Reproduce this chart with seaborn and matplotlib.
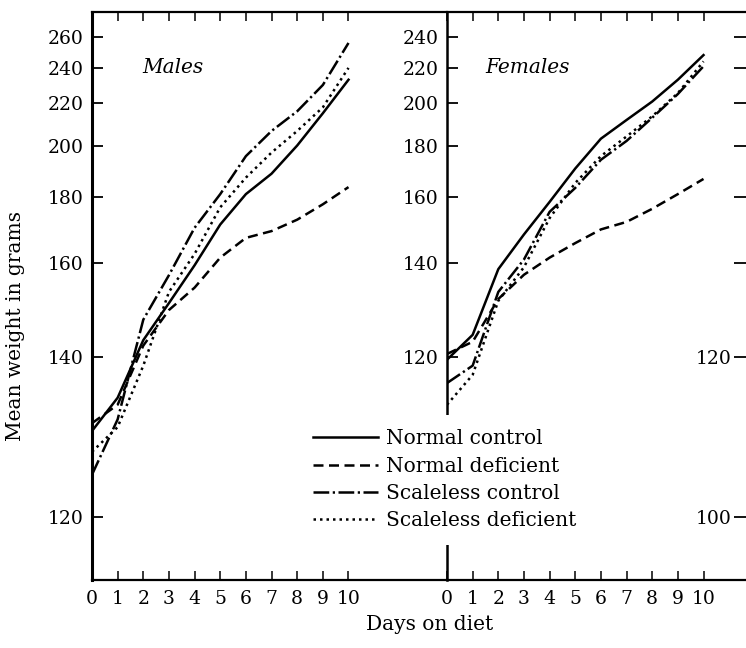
import numpy as np
import pandas as pd
import matplotlib
matplotlib.use("Agg")
import matplotlib.pyplot as plt
import seaborn as sns

# data (mean weight in grams, days 0-10)
days = list(range(11))
groups = ["Normal control", "Normal deficient", "Scaleless control", "Scaleless deficient"]

male_normal_control = [129, 133.5, 143, 150.5, 159.5, 171, 181, 188.5, 200, 215, 233]
male_normal_deficient = [130, 132.5, 142, 149, 154, 161.5, 167, 169, 172.5, 177.5, 183.5]
male_scaleless_control = [124, 130.5, 147, 157, 170, 181, 195.5, 206.5, 216, 230, 256]
male_scaleless_deficient = [126.5, 129.5, 138.5, 153, 162.5, 176.5, 187, 197, 206.5, 218, 240]

female_normal_control = [119.5, 124, 138.5, 148, 158.3, 170.5, 183, 191.7, 201, 213, 228]
female_normal_deficient = [120.5, 122.7, 131.4, 137.1, 141.5, 145.5, 149.5, 151.8, 156, 161, 166.5]
female_scaleless_control = [115.7, 118.5, 133, 141, 155, 163.2, 174, 182, 192.8, 205, 221]
female_scaleless_deficient = [112.5, 117, 131, 139, 153, 165, 175.5, 184, 193.5, 205.5, 224]

male_ticks = [120, 140, 160, 180, 200, 220, 240, 260]
female_ticks = [120, 140, 160, 180, 200, 220, 240]
edge_ticks = [100, 120, 140, 160, 180, 200, 220, 240]
edge_labels = ["100", "120", "", "", "", "", "", ""]


def long_form(series):
    return pd.DataFrame({
        "day": days * len(series),
        "weight": np.concatenate(series),
        "group": np.repeat(groups, len(days)),
    })


males = long_form([male_normal_control, male_normal_deficient,
                   male_scaleless_control, male_scaleless_deficient])
females = long_form([female_normal_control, female_normal_deficient,
                     female_scaleless_control, female_scaleless_deficient])


def log_offset(offset):
    # weight axis drawn as log(w - offset)
    fwd = lambda w: np.log(np.clip(np.asarray(w, dtype=float) - offset, 1e-6, None))
    inv = lambda v: np.exp(v) + offset
    return fwd, inv


plt.rcParams["font.family"] = ["DejaVu Serif"]
W, H = 746, 648
fig = plt.figure(figsize=(W / 100, H / 100), dpi=100)

top, bottom = 12, 580
b = 1 - bottom / H
h = (bottom - top) / H
px_day = 25.65

ax_m = fig.add_axes([92 / W, b, (447 - 92) / W, h])
ax_f = fig.add_axes([447 / W, b, (W - 447) / W, h])
ax_e = fig.add_axes([748 / W, b, 0.05, h])

dash_styles = ["", (4, 2.2), (6.3, 1.4, 0.9, 1.4), (1, 1.6)]

for ax, df, off, ticks in [(ax_m, males, 100, male_ticks), (ax_f, females, 80, female_ticks)]:
    sns.lineplot(data=df, x="day", y="weight", style="group", style_order=groups,
                 dashes=dash_styles, color="black", linewidth=1.8, ax=ax,
                 legend=(ax is ax_f))
    ax.set_yscale("function", functions=log_offset(off))
    ax.set_ylim(115.2 - (100 - off), 278.4 - (100 - off))
    ax.set_yticks(ticks)
    ax.set_yticklabels([str(t) for t in ticks])
    ax.yaxis.set_minor_locator(plt.NullLocator())
    ax.set_xticks(days)
    ax.set_xticklabels([str(d) for d in days])
    ax.set_xlabel("")
    ax.set_ylabel("")
    ax.set_facecolor("none")
    ax.tick_params(axis="y", direction="in", length=8, width=1.3, pad=6, labelsize=13.5)
    ax.tick_params(axis="x", direction="in", length=6.5, width=1.1, pad=7, labelsize=13.5,
                   top=True, labeltop=False)
    ax.spines["right"].set_visible(False)
    for s in ["top", "bottom"]:
        ax.spines[s].set_linewidth(1.6)
    ax.spines["left"].set_linewidth(1.8)

ax_m.set_xlim(0, (447 - 92) / px_day)
ax_f.set_xlim(0, (W - 447) / px_day)
ax_m.spines["left"].set_linewidth(2.2)

# right-hand edge scale (female scale continued)
ax_e.set_yscale("function", functions=log_offset(80))
ax_e.set_ylim(95.2, 258.4)
ax_e.set_yticks(edge_ticks)
ax_e.set_yticklabels(edge_labels)
ax_e.yaxis.set_minor_locator(plt.NullLocator())
ax_e.set_xticks([])
ax_e.set_facecolor("none")
for s in ax_e.spines.values():
    s.set_visible(False)
ax_e.tick_params(axis="y", direction="out", length=10, width=1.3, pad=2, labelsize=13.5)

ax_m.text(0.141, 0.903, "Males", transform=ax_m.transAxes, fontsize=14.5,
          style="italic", va="center", ha="left")
ax_f.text(0.127, 0.903, "Females", transform=ax_f.transAxes, fontsize=14.5,
          style="italic", va="center", ha="left")

fig.text(16 / W, 1 - 326 / H, "Mean weight in grams", fontsize=14.5, rotation=90,
         ha="center", va="center")
fig.text(430 / W, 1 - 625 / H, "Days on diet", fontsize=14.5, ha="center", va="center")

handles, labels = ax_f.get_legend_handles_labels()
keep = [(hd, lb) for hd, lb in zip(handles, labels) if lb in groups]
ax_f.legend([k[0] for k in keep], [k[1] for k in keep], loc="upper left",
            bbox_to_anchor=(299 / W, 1 - 415 / H), bbox_transform=fig.transFigure,
            borderaxespad=0, frameon=True, facecolor="white", edgecolor="none",
            framealpha=1, fancybox=False, handlelength=3.2, handletextpad=0.4,
            labelspacing=0.42, borderpad=0.7, fontsize=14.5)

fig.savefig("out.png", dpi=100)
